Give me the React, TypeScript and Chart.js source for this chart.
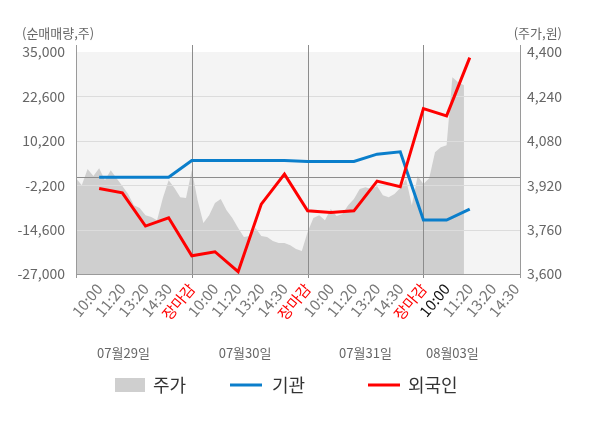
import { useEffect, useRef } from 'react';
import { Chart, registerables } from 'chart.js';

Chart.register(...registerables);

// x-axis tick labels, one per slot
const timeLabels = [
  '10:00', '11:20', '13:20', '14:30', '장마감',
  '10:00', '11:20', '13:20', '14:30', '장마감',
  '10:00', '11:20', '13:20', '14:30', '장마감',
  '10:00', '11:20', '13:20', '14:30',
];
const dateLabels = ['07월29일', '07월30일', '07월31일', '08월03일'];

// net buying (shares), one value per slot starting at the first 10:00
const institution = [0, 0, 0, 0, 4700, 4700, 4700, 4700, 4700, 4450, 4450, 4450, 6470, 7110, -11940, -11940, -8870];
const foreigner = [-3100, -4320, -13610, -11300, -21900, -20780, -26360, -7480, 890, -9350, -9800, -9350, -1060, -2650, 19210, 17150, 33440];

// stock price (won), sampled every quarter slot from the market open
const price = [
  3945, 3920, 3978, 3953, 3981, 3938, 3974, 3945, 3917, 3888,
  3848, 3838, 3812, 3805, 3794, 3874, 3938, 3910, 3877, 3874,
  3974, 3866, 3784, 3812, 3856, 3870, 3830, 3802, 3766, 3733,
  3737, 3766, 3737, 3733, 3719, 3712, 3712, 3704, 3690, 3683,
  3751, 3802, 3812, 3794, 3834, 3809, 3816, 3848, 3870, 3906,
  3913, 3906, 3917, 3884, 3877, 3888, 3910, 3942, 3848, 3953,
  3924, 3945, 4039, 4057, 4064, 4309, 4291, 4280,
];

const FONT = '"Noto Sans CJK KR", "Noto Sans", sans-serif';
const PRICE_STEP = 0.25;
const CLOSE_SLOTS = [4, 9, 14];
const DATE_SLOTS = [1.05, 6.3, 11.5, 15.25];
const RED = '#ff0000';
const BLUE = '#0a7ecb';
const AREA = '#cfcfcf';

const decor = {
  id: 'decor',
  beforeDatasetsDraw(chart: any) {
    const { ctx, chartArea: a } = chart;
    ctx.save();
    ctx.fillStyle = '#f4f4f4';
    ctx.fillRect(a.left, a.top, a.right - a.left, a.bottom - a.top);
    ctx.restore();
  },
  afterDatasetDraw(chart: any, args: any) {
    if (args.index !== 0) return;
    const { ctx, chartArea: a, scales } = chart;
    const line = (x1: number, y1: number, x2: number, y2: number) => {
      ctx.beginPath();
      ctx.moveTo(x1, y1);
      ctx.lineTo(x2, y2);
      ctx.stroke();
    };
    ctx.save();
    ctx.lineWidth = 1;
    ctx.strokeStyle = '#dcdcdc';
    scales.y.ticks.forEach((t: any) => {
      const py = Math.round(scales.y.getPixelForValue(t.value)) + 0.5;
      if (py < a.top + 2 || py > a.bottom - 2) return;
      line(a.left, py, a.right, py);
    });
    ctx.strokeStyle = '#8c8c8c';
    const py0 = Math.round(scales.y.getPixelForValue(0)) + 0.5;
    line(a.left, py0, a.right, py0);
    CLOSE_SLOTS.forEach((k) => {
      const px = Math.round(scales.x.getPixelForValue(k)) + 0.5;
      line(px, a.top - 7, px, a.bottom + 4);
    });
    ctx.restore();
  },
  afterDraw(chart: any) {
    const { ctx, chartArea: a, scales } = chart;
    ctx.save();
    ctx.lineWidth = 1;
    ctx.strokeStyle = '#9a9a9a';
    const edges = [a.left, a.right];
    edges.forEach((x: number) => {
      const px = Math.round(x) + 0.5;
      ctx.beginPath();
      ctx.moveTo(px, a.top - 7);
      ctx.lineTo(px, a.bottom + 4);
      ctx.stroke();
    });
    const pb = Math.round(a.bottom) + 0.5;
    ctx.beginPath();
    ctx.moveTo(a.left, pb);
    ctx.lineTo(a.right, pb);
    ctx.stroke();

    // axis titles
    ctx.fillStyle = '#666';
    ctx.font = `13px ${FONT}`;
    ctx.textBaseline = 'middle';
    ctx.textAlign = 'left';
    ctx.fillText('(순매매량,주)', 22, 33);
    ctx.textAlign = 'right';
    ctx.fillText('(주가,원)', 562, 33);

    // dates under the time labels
    ctx.textAlign = 'center';
    dateLabels.forEach((d, i) => {
      ctx.fillText(d, scales.x.getPixelForValue(DATE_SLOTS[i]), 353);
    });

    // legend
    ctx.font = `18px ${FONT}`;
    ctx.textAlign = 'left';
    ctx.fillStyle = AREA;
    ctx.fillRect(115, 378, 30, 14);
    ctx.fillStyle = '#333';
    ctx.fillText('주가', 153, 385);
    ctx.lineWidth = 3;
    ctx.strokeStyle = BLUE;
    ctx.beginPath();
    ctx.moveTo(230, 385);
    ctx.lineTo(262, 385);
    ctx.stroke();
    ctx.fillText('기관', 272, 385);
    ctx.strokeStyle = RED;
    ctx.beginPath();
    ctx.moveTo(368, 385);
    ctx.lineTo(400, 385);
    ctx.stroke();
    ctx.fillText('외국인', 408, 385);
    ctx.restore();
  },
};

export default function App() {
  const chartRef = useRef<HTMLCanvasElement>(null);

  useEffect(() => {
    if (!chartRef.current) return;
    const ctx = chartRef.current.getContext('2d');
    if (!ctx) return;

    const chart = new Chart(ctx, {
      type: 'line',
      data: {
        datasets: [
          {
            label: '주가',
            data: price.map((v, i) => ({ x: -1 + i * PRICE_STEP, y: v })),
            yAxisID: 'y2',
            fill: 'start',
            backgroundColor: AREA,
            borderWidth: 0,
            pointRadius: 0,
            order: 3,
          },
          {
            label: '기관',
            data: institution.map((v, i) => ({ x: i, y: v })),
            yAxisID: 'y',
            borderColor: BLUE,
            borderWidth: 3,
            pointRadius: 0,
            fill: false,
            order: 2,
          },
          {
            label: '외국인',
            data: foreigner.map((v, i) => ({ x: i, y: v })),
            yAxisID: 'y',
            borderColor: RED,
            borderWidth: 3,
            pointRadius: 0,
            fill: false,
            order: 1,
          },
        ],
      },
      options: {
        animation: false,
        responsive: true,
        maintainAspectRatio: false,
        layout: { padding: { top: 52, left: 0, right: 0, bottom: 0 } },
        plugins: {
          legend: { display: false },
          tooltip: { enabled: false },
        },
        scales: {
          x: {
            type: 'linear',
            min: -1,
            max: 18.17,
            afterBuildTicks: (s: any) => {
              s.ticks = timeLabels.map((_, i) => ({ value: i }));
            },
            afterFit: (s: any) => {
              s.height = 154;
            },
            grid: { display: false, drawTicks: false },
            border: { display: false },
            ticks: {
              autoSkip: false,
              minRotation: 50,
              maxRotation: 50,
              padding: 6,
              font: { family: FONT, size: 15 },
              color: (c: any) => {
                const lbl = timeLabels[c.index];
                if (lbl === '장마감') return RED;
                if (c.index === 15) return '#111';
                return '#777';
              },
              callback: (v: any) => timeLabels[Number(v)] ?? '',
            },
          },
          y: {
            position: 'left',
            min: -27000,
            max: 35000,
            afterFit: (s: any) => {
              s.width = 76;
            },
            grid: { display: false, drawTicks: false },
            border: { display: false },
            ticks: {
              stepSize: 12400,
              padding: 11,
              color: '#666',
              font: { family: FONT, size: 14 },
              callback: (v: any) => Number(v).toLocaleString('en-US'),
            },
          },
          y2: {
            position: 'right',
            min: 3600,
            max: 4400,
            afterFit: (s: any) => {
              s.width = 80;
            },
            grid: { display: false, drawTicks: false },
            border: { display: false },
            ticks: {
              stepSize: 160,
              padding: 7,
              color: '#666',
              font: { family: FONT, size: 14 },
              callback: (v: any) => Number(v).toLocaleString('en-US'),
            },
          },
        },
      },
      plugins: [decor],
    });

    return () => {
      chart.destroy();
    };
  }, []);

  return (
    <div style={{ position: 'fixed', left: 0, top: 0, width: 600, height: 428, background: '#fff' }}>
      <canvas ref={chartRef}></canvas>
    </div>
  );
}
